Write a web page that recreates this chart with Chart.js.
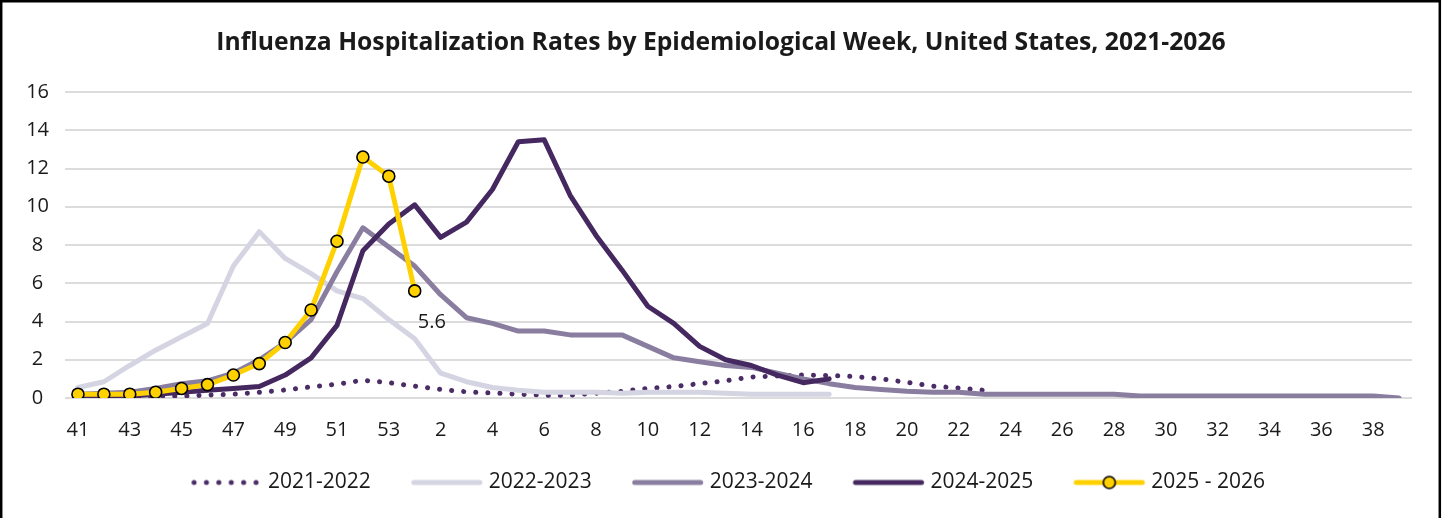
<!DOCTYPE html>
<html>
<head>
<meta charset="utf-8">
<title>Influenza Hospitalization Rates</title>
<script src="https://cdn.jsdelivr.net/npm/chart.js@4.4.1/dist/chart.umd.min.js"></script>
<style>
  html, body { margin: 0; padding: 0; background: #fff; }
  canvas { display: block; }
</style>
</head>
<body>
<canvas id="fluChart" width="1442" height="518"></canvas>
<script>
// epidemiological weeks on the x axis (season runs week 41 -> week 39)
const weeks = [41, 42, 43, 44, 45, 46, 47, 48, 49, 50, 51, 52, 53,
  1, 2, 3, 4, 5, 6, 7, 8, 9, 10, 11, 12, 13, 14, 15, 16, 17, 18, 19, 20,
  21, 22, 23, 24, 25, 26, 27, 28, 29, 30, 31, 32, 33, 34, 35, 36, 37, 38, 39];

const yTicks = [0, 2, 4, 6, 8, 10, 12, 14, 16];

// hospitalization rates per season
const season2122 = [0.05, 0.05, 0.05, 0.1, 0.1, 0.15, 0.2, 0.3, 0.42, 0.58, 0.72, 0.93, 0.8,
  0.62, 0.45, 0.32, 0.26, 0.2, 0.15, 0.15, 0.25, 0.35, 0.5, 0.6, 0.75, 0.9, 1.1, 1.15, 1.2,
  1.18, 1.12, 1.0, 0.82, 0.62, 0.52, 0.4];
const season2223 = [0.55, 0.85, 1.7, 2.5, 3.2, 3.9, 6.9, 8.7, 7.3, 6.5, 5.6, 5.2, 4.1,
  3.1, 1.3, 0.85, 0.55, 0.4, 0.3, 0.3, 0.3, 0.25, 0.3, 0.3, 0.3, 0.25, 0.2, 0.2, 0.2, 0.2];
const season2324 = [0.2, 0.25, 0.3, 0.5, 0.75, 0.9, 1.3, 2.0, 2.9, 4.1, 6.6, 8.9, 7.9,
  6.9, 5.4, 4.2, 3.9, 3.5, 3.5, 3.3, 3.3, 3.3, 2.7, 2.1, 1.9, 1.7, 1.6, 1.3, 1.0, 0.75,
  0.55, 0.45, 0.35, 0.3, 0.3, 0.2, 0.2, 0.2, 0.2, 0.2, 0.2, 0.1, 0.1, 0.1, 0.1, 0.1,
  0.1, 0.1, 0.1, 0.1, 0.1, 0.0];
const season2425 = [0.1, 0.1, 0.1, 0.2, 0.3, 0.4, 0.5, 0.6, 1.2, 2.1, 3.8, 7.7, 9.1,
  10.1, 8.4, 9.2, 10.9, 13.4, 13.5, 10.6, 8.5, 6.7, 4.8, 3.9, 2.7, 2.0, 1.7, 1.2, 0.8, 1.0];
const season2526 = [0.2, 0.2, 0.2, 0.3, 0.5, 0.7, 1.2, 1.8, 2.9, 4.6, 8.2, 12.6, 11.6, 5.6];

const seasonLabels = ['2021-2022', '2022-2023', '2023-2024', '2024-2025', '2025 - 2026'];

const colorDotted = '#4a2c66';
const colorLight = '#d4d4e2';
const colorMid = '#8a7ea0';
const colorDark = '#452860';
const colorGold = '#ffd100';
const textColor = '#1a1a1a';
const fontFamily = "'Open Sans', sans-serif";

Chart.defaults.font.family = fontFamily;
Chart.defaults.font.size = 20;
Chart.defaults.color = textColor;

// legend swatch geometry (Excel style: long line sample, small gap, text)
const legendFont = 21;
const sampleOffset = 13;   // where the swatch starts inside the legend item
const sampleLen = 72;
const sampleGap = 6;       // swatch end -> text
const legendBoxW = sampleOffset + sampleLen + sampleGap - legendFont / 2;

function makeSample(kind, color) {
    const half = Math.ceil(Math.max(legendBoxW / 2 - sampleOffset, sampleOffset + sampleLen - legendBoxW / 2)) + 2;
    const c = document.createElement('canvas');
    c.width = half * 2;
    c.height = 18;
    const x0 = half - (legendBoxW / 2 - sampleOffset);
    const g = c.getContext('2d');
    g.lineCap = 'round';
    if (kind === 'dots') {
        g.fillStyle = color;
        for (let k = 0; k < 6; k++) {
            g.beginPath();
            g.arc(x0 + 4 + k * 12.4, 9, 2.5, 0, Math.PI * 2);
            g.fill();
        }
        return c;
    }
    g.strokeStyle = color;
    g.lineWidth = 5;
    g.beginPath();
    g.moveTo(x0 + 3, 9);
    g.lineTo(x0 + sampleLen - 3, 9);
    g.stroke();
    if (kind === 'marker') {
        g.beginPath();
        g.arc(x0 + sampleLen / 2, 9, 6, 0, Math.PI * 2);
        g.fillStyle = color;
        g.fill();
        g.lineWidth = 1.6;
        g.strokeStyle = '#000';
        g.stroke();
    }
    return c;
}

const legendSamples = [
    makeSample('dots', colorDotted),
    makeSample('line', colorLight),
    makeSample('line', colorMid),
    makeSample('line', colorDark),
    makeSample('marker', colorGold)
];

// border around the whole chart + white background
const chartFrame = {
    id: 'chartFrame',
    beforeDraw(chart) {
        const {ctx, width, height} = chart;
        ctx.save();
        ctx.fillStyle = '#fff';
        ctx.fillRect(0, 0, width, height);
        ctx.strokeStyle = '#000';
        ctx.lineWidth = 2.5;
        ctx.beginPath();
        ctx.moveTo(1.2, height);
        ctx.lineTo(1.2, 1.2);
        ctx.lineTo(width - 2.2, 1.2);
        ctx.lineTo(width - 2.2, height);
        ctx.stroke();
        ctx.restore();
    }
};

// value label next to the latest point of the current season
const lastValueLabel = {
    id: 'lastValueLabel',
    afterDatasetsDraw(chart) {
        const idx = chart.data.datasets.length - 1;
        const meta = chart.getDatasetMeta(idx);
        const data = chart.data.datasets[idx].data;
        const pt = meta.data[data.length - 1];
        if (!pt) return;
        const {ctx} = chart;
        ctx.save();
        ctx.font = '20px ' + fontFamily;
        ctx.fillStyle = textColor;
        ctx.textAlign = 'left';
        ctx.textBaseline = 'middle';
        ctx.fillText(String(data[data.length - 1]), pt.x + 3, pt.y + 31);
        ctx.restore();
    }
};

const baseLine = {
    fill: false,
    tension: 0,
    borderWidth: 5,
    borderJoinStyle: 'round',
    borderCapStyle: 'round',
    pointRadius: 0,
    pointHoverRadius: 0
};

new Chart(document.getElementById('fluChart'), {
    type: 'line',
    data: {
        labels: weeks,
        datasets: [
            Object.assign({}, baseLine, {
                label: seasonLabels[0], data: season2122, borderColor: colorDotted,
                borderDash: [0.1, 12], order: 5
            }),
            Object.assign({}, baseLine, {
                label: seasonLabels[1], data: season2223, borderColor: colorLight, order: 4
            }),
            Object.assign({}, baseLine, {
                label: seasonLabels[2], data: season2324, borderColor: colorMid, order: 3
            }),
            Object.assign({}, baseLine, {
                label: seasonLabels[3], data: season2425, borderColor: colorDark, order: 2
            }),
            Object.assign({}, baseLine, {
                label: seasonLabels[4], data: season2526, borderColor: colorGold,
                pointRadius: 6, pointBackgroundColor: colorGold,
                pointBorderColor: '#000', pointBorderWidth: 1.6, order: 1
            })
        ]
    },
    options: {
        responsive: false,
        animation: false,
        events: [],
        layout: {
            padding: { left: 0, right: 0, top: 0, bottom: 15 }
        },
        plugins: {
            title: {
                display: true,
                text: 'Influenza Hospitalization Rates by Epidemiological Week, United States, 2021-2026',
                color: textColor,
                font: { size: 24.7, weight: 'bold' },
                padding: { top: 28, bottom: 34.4 }
            },
            legend: {
                position: 'bottom',
                labels: {
                    usePointStyle: true,
                    pointStyleWidth: legendBoxW,
                    padding: 27,
                    color: textColor,
                    font: { size: legendFont },
                    generateLabels: chart => chart.data.datasets.map((ds, i) => ({
                        text: ds.label,
                        pointStyle: legendSamples[i],
                        fillStyle: ds.borderColor,
                        strokeStyle: ds.borderColor,
                        lineWidth: 0,
                        hidden: !chart.isDatasetVisible(i),
                        datasetIndex: i,
                        fontColor: textColor
                    }))
                }
            },
            tooltip: { enabled: false }
        },
        scales: {
            x: {
                offset: true,
                grid: { display: false, drawTicks: false },
                border: { display: false },
                ticks: {
                    autoSkip: false,
                    maxRotation: 0,
                    padding: 20,
                    font: { size: 20 },
                    callback: function (value, index) {
                        return index % 2 === 0 ? String(weeks[index]) : '';
                    }
                },
                afterFit(scale) { scale.height = 47; }
            },
            y: {
                min: yTicks[0],
                max: yTicks[yTicks.length - 1],
                border: { display: false },
                grid: { color: '#dcdcdc', lineWidth: 2, drawTicks: false },
                ticks: {
                    stepSize: yTicks[1] - yTicks[0],
                    padding: 16,
                    crossAlign: 'center',
                    font: { size: 20 }
                },
                afterFit(scale) { scale.width = 65; }
            },
            // empty right-hand strip so the plot ends where the original does
            yRight: {
                type: 'linear',
                position: 'right',
                min: 0,
                max: 1,
                grid: { display: false },
                border: { display: false },
                ticks: { display: false },
                afterFit(scale) { scale.width = 30; }
            }
        }
    },
    plugins: [chartFrame, lastValueLabel]
});
</script>
</body>
</html>
